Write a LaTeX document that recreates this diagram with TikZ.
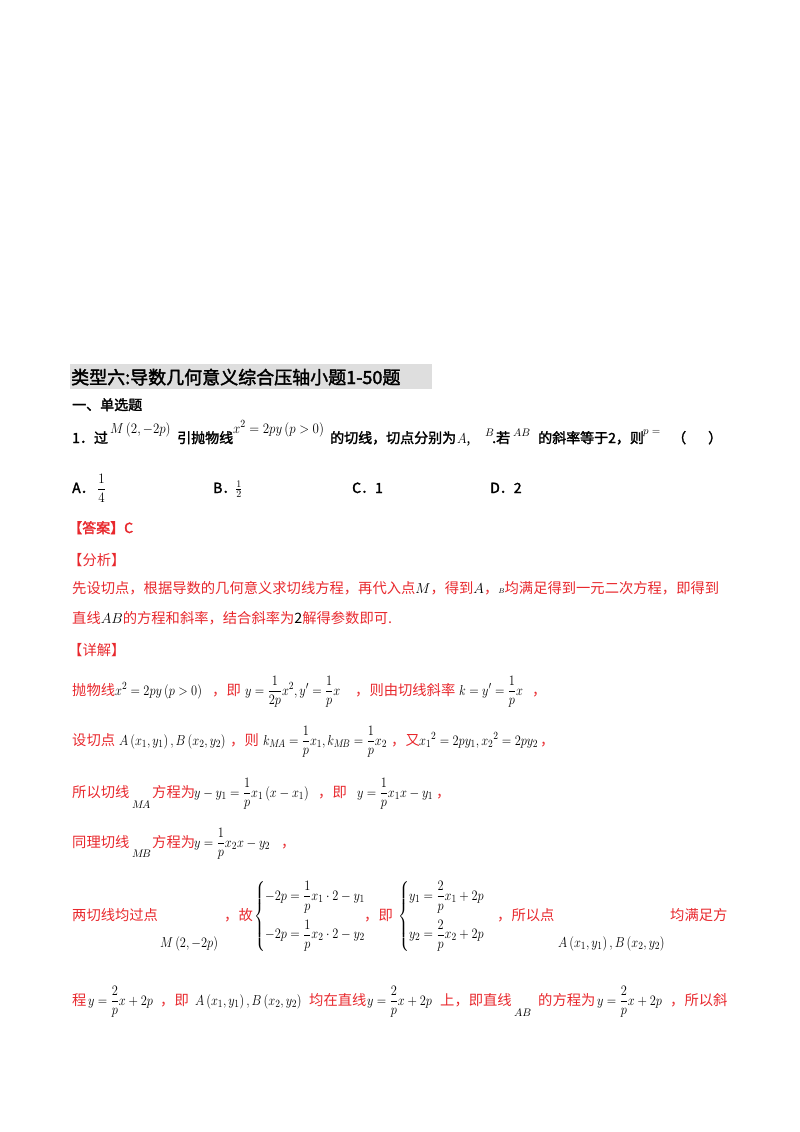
\documentclass[tikz,border=0pt]{standalone}
\usepackage{amsmath}
\usepackage{fontspec}
\setmainfont{Noto Sans CJK SC}[AutoFakeBold=2]
\definecolor{ansred}{RGB}{232,40,45}
\definecolor{hlgray}{RGB}{222,222,222}
\newcommand\mth[1]{{\fontsize{15}{18}\selectfont$#1$}}
\tikzset{t/.style={anchor=base west,inner sep=0pt,font=\fontsize{14.3}{16}\selectfont},
 r/.style={t,text=ansred},
 mm/.style={t,transform shape,xscale=0.86},
 b/.style={t,font=\fontsize{14}{16}\selectfont\bfseries},
 m/.style={t,font=\fontsize{15}{17}\selectfont,transform shape,xscale=0.9},
 s/.style={t,font=\fontsize{11}{13}\selectfont}}
\begin{document}
\begin{tikzpicture}[x=1pt,y=-1pt]
\useasboundingbox (0,0) rectangle (800,1132);
\fill[hlgray] (70,364) rectangle (432,389);
\node[t,font=\fontsize{18}{20}\selectfont\bfseries] (title) at (71,384) {类型六:导数几何意义综合压轴小题1-50题};
\node[b] (sec) at (72,410) {一、单选题};
\node[b] (q1) at (72,443) {1．过};
\node[m] (qM) at (110,433) {$M\left(2,-2p\right)$};
\node[b] (q2) at (177,443) {引抛物线};
\node[m] (qx) at (233,433) {$x^2=2py\left(p>0\right)$};
\node[b] (q3) at (330,443) {的切线，切点分别为};
\node[m] (qA) at (457,443) {$A$,};
\node[s] (qB) at (485,436) {$B$};
\node[b] (q4) at (492,443) {.若};
\node[s] (qAB) at (513,436) {$AB$};
\node[b] (q5) at (538,443) {的斜率等于2，则};
\node[s] (qp) at (643,434) {$p=$};
\node[b] (q6) at (672,443) {（};
\node[b] (q7) at (708,443) {）};
\node[b] (oA) at (72,493) {A．};
\node[m] (oAv) at (97,493) {$\dfrac{1}{4}$};
\node[b] (oB) at (213,493) {B．};
\node[t] (oBv) at (235,493) {$\tfrac{1}{2}$};
\node[b] (oC) at (352,493) {C．1};
\node[b] (oD) at (490,493) {D．2};
\node[r,font=\fontsize{14}{16}\selectfont\bfseries] (ans) at (68,533) {【答案】C};
\node[r] (ana) at (68,565) {【分析】};
\node[r] (l1) at (72,593) {先设切点，根据导数的几何意义求切线方程，再代入点\textcolor{black}{\mth{M}}，得到\textcolor{black}{\mth{A}}，\textcolor{black}{\scriptsize$B$}均满足得到一元二次方程，即得到};
\node[r] (l2) at (72,623) {直线\textcolor{black}{\mth{AB}}的方程和斜率，结合斜率为\textcolor{black}{2}解得参数即可.};
\node[r] (det) at (68,655) {【详解】};
% line 1
\node[r] (a1) at (72,695) {抛物线};
\node[mm] (a1m) at (115,695) {\mth{x^2=2py\left(p>0\right)}};
\node[r] (a1b) at (212,695) {，即};
\node[mm] (a1n) at (245,695) {\mth{y=\dfrac{1}{2p}x^2,y'=\dfrac{1}{p}x}};
\node[r] (a1c) at (355,695) {，则由切线斜率};
\node[mm] (a1o) at (459,695) {\mth{k=y'=\dfrac{1}{p}x}};
\node[r] (a1d) at (532,695) {，};
% line 2
\node[r] (a2) at (72,745) {设切点};
\node[mm] (a2m) at (119,745) {\mth{A\left(x_1,y_1\right),B\left(x_2,y_2\right)}};
\node[r] (a2b) at (230,745) {，则};
\node[mm] (a2n) at (263,745) {\mth{k_{M\!A}=\dfrac{1}{p}x_1,k_{M\!B}=\dfrac{1}{p}x_2}};
\node[r] (a2c) at (391,745) {，又};
\node[mm] (a2o) at (419,745) {\mth{{x_1}^2=2py_1,{x_2}^2=2py_2}};
\node[r] (a2d) at (540,745) {，};
% line 3
\node[r] (a3) at (72,797) {所以切线};
\node[s] (a3s) at (132,808) {$M\!A$};
\node[r] (a3b) at (152,797) {方程为};
\node[mm] (a3m) at (194,797) {\mth{y-y_1=\dfrac{1}{p}x_1\left(x-x_1\right)}};
\node[r] (a3c) at (318,797) {，即};
\node[mm] (a3n) at (357,797) {\mth{y=\dfrac{1}{p}x_1x-y_1}};
\node[r] (a3d) at (436,797) {，};
% line 4
\node[r] (a4) at (72,847) {同理切线};
\node[s] (a4s) at (132,857) {$M\!B$};
\node[r] (a4b) at (152,847) {方程为};
\node[mm] (a4m) at (194,847) {\mth{y=\dfrac{1}{p}x_2x-y_2}};
\node[r] (a4d) at (281,847) {，};
% line 5
\node[r] (a5) at (72,920) {两切线均过点};
\node[mm] (a5M) at (160,947) {\mth{M\left(2,-2p\right)}};
\node[r] (a5b) at (224,920) {，故};
\node[mm] (a5c) at (254,920) {\mth{\left\{\begin{array}{@{}l@{}}-2p=\dfrac{1}{p}x_1\cdot 2-y_1\\[14pt] -2p=\dfrac{1}{p}x_2\cdot 2-y_2\end{array}\right.}};
\node[r] (a5d) at (364,920) {，即};
\node[mm] (a5e) at (398,920) {\mth{\left\{\begin{array}{@{}l@{}}y_1=\dfrac{2}{p}x_1+2p\\[14pt] y_2=\dfrac{2}{p}x_2+2p\end{array}\right.}};
\node[r] (a5f) at (497,920) {，所以点};
\node[mm] (a5A) at (558,947) {\mth{A\left(x_1,y_1\right),B\left(x_2,y_2\right)}};
\node[r] (a5g) at (670,920) {均满足方};
% line 6
\node[r] (a6) at (72,1005) {程};
\node[mm] (a6m) at (88,1005) {\mth{y=\dfrac{2}{p}x+2p}};
\node[r] (a6b) at (160,1005) {，即};
\node[mm] (a6n) at (195,1005) {\mth{A\left(x_1,y_1\right),B\left(x_2,y_2\right)}};
\node[r] (a6c) at (309,1005) {均在直线};
\node[mm] (a6o) at (367,1005) {\mth{y=\dfrac{2}{p}x+2p}};
\node[r] (a6d) at (440,1005) {上，即直线};
\node[s] (a6s) at (514,1016) {$AB$};
\node[r] (a6e) at (538,1005) {的方程为};
\node[mm] (a6p) at (597,1005) {\mth{y=\dfrac{2}{p}x+2p}};
\node[r] (a6f) at (670,1005) {，所以斜};
\end{tikzpicture}
\end{document}
